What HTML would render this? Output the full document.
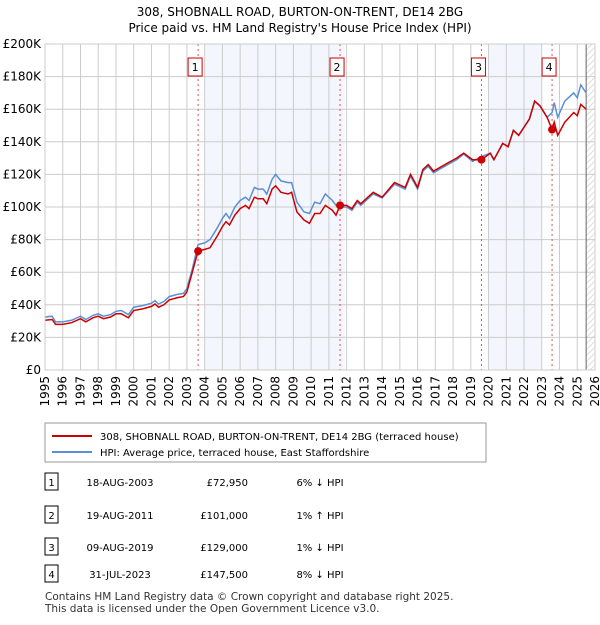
<!DOCTYPE html>
<html><head><meta charset="utf-8"><style>
body{margin:0;background:#fff;font-family:"Liberation Sans","DejaVu Sans",sans-serif;}
svg text{font-family:"DejaVu Sans","Liberation Sans",sans-serif;}
</style></head><body>
<svg id="c" width="600" height="620" xmlns="http://www.w3.org/2000/svg">
<text x="300" y="16" font-size="12" text-anchor="middle">308, SHOBNALL ROAD, BURTON-ON-TRENT, DE14 2BG</text>
<text x="300" y="32" font-size="12" text-anchor="middle">Price paid vs. HM Land Registry's House Price Index (HPI)</text>
<defs><pattern id="h" width="6" height="6" patternUnits="userSpaceOnUse"><path d="M0,6 L6,0" stroke="#ddd" stroke-width="1"/></pattern></defs>
<g id="plot"></g>
<g>
<rect x="45" y="423" width="441" height="39" fill="#fff" stroke="#999"/>
<line x1="52" y1="436" x2="92" y2="436" stroke="#cc0000" stroke-width="2"/>
<text x="100" y="440" font-size="10">308, SHOBNALL ROAD, BURTON-ON-TRENT, DE14 2BG (terraced house)</text>
<line x1="52" y1="452" x2="92" y2="452" stroke="#5b8fd6" stroke-width="2"/>
<text x="100" y="456" font-size="10">HPI: Average price, terraced house, East Staffordshire</text>
</g>
<g id="tbl" font-size="10"></g>
<text x="45" y="600" font-size="10.5" fill="#333">Contains HM Land Registry data © Crown copyright and database right 2025.</text>
<text x="45" y="612" font-size="10.5" fill="#333">This data is licensed under the Open Government Licence v3.0.</text>
</svg>
<script>
const dates=[1995.0,1995.4,1995.6,1996.0,1996.5,1997.0,1997.3,1997.7,1998.0,1998.3,1998.7,1999.0,1999.3,1999.7,2000.0,2000.5,2001.0,2001.2,2001.4,2001.7,2002.0,2002.5,2002.8,2003.0,2003.3,2003.63,2004.0,2004.3,2004.7,2005.0,2005.2,2005.4,2005.7,2006.0,2006.3,2006.5,2006.8,2007.0,2007.3,2007.5,2007.8,2008.0,2008.3,2008.7,2008.9,2009.2,2009.6,2009.9,2010.2,2010.5,2010.8,2011.2,2011.4,2011.63,2012.0,2012.3,2012.6,2012.8,2013.5,2014.0,2014.7,2015.3,2015.6,2016.0,2016.3,2016.6,2016.9,2017.7,2018.2,2018.6,2019.1,2019.6,2020.1,2020.3,2020.8,2021.1,2021.4,2021.7,2022.3,2022.6,2022.9,2023.3,2023.58,2023.7,2023.9,2024.3,2024.8,2025.0,2025.2,2025.5];
const hpi=[32.5,33,29.5,29.5,30.5,33,31,33.5,34.5,33,34,36,36.5,34,38.5,39.5,41,42.5,40.5,42,45,46.5,47,50,62,77,78,80,87,93,96,93,100,104,106,104,112,111,111,108,117,120,116,115,115,103,97,96,103,102,108,104,101,100,100,98,103,101,108,105.5,114,111,119,111,122,125,121,126,129,132.5,128,131,133,129,139,137,147,144,154,165,162,155,158,164,155,165,170,167,175,170];
const price=[30.5,31,28,28,29,31.5,29.5,32,33,31.5,32.5,34.5,34.5,32,36.5,37.5,39,40.5,38.5,40,43,44.5,45,48,60,73,74,75,82,88,91,89,95,99,101,99,106,105,105,102,111,113,109,108,109,97,92,90,96,96,101,98,95,101,101,99,104,102,109,106,115,112,120,112,123,126,122,127,130,133,129,129,133,129,139,137,147,144,154,165,162,155,147.5,152,144,152,158,156,163,160];
const saleYears=[2003.63,2011.63,2019.6,2023.58];
const saleVals=[72.95,101,129,147.5];
const saleDates=["18-AUG-2003","19-AUG-2011","09-AUG-2019","31-JUL-2023"];
const salePrices=["£72,950","£101,000","£129,000","£147,500"];
const saleHpi=["6% ↓ HPI","1% ↑ HPI","1% ↓ HPI","8% ↓ HPI"];
const yTicks=[0,20,40,60,80,100,120,140,160,180,200];
const xTicks=[1995,1996,1997,1998,1999,2000,2001,2002,2003,2004,2005,2006,2007,2008,2009,2010,2011,2012,2013,2014,2015,2016,2017,2018,2019,2020,2021,2022,2023,2024,2025,2026];
const X0=45,X1=595,Y0=370,Y1=44;
const sx=y=>X0+(y-1995)/31*(X1-X0);
const sy=v=>Y0-v/200*(Y0-Y1);
const NS="http://www.w3.org/2000/svg";
const g=document.getElementById('plot');
function mk(t,a,p){const e=document.createElementNS(NS,t);for(const k in a)e.setAttribute(k,a[k]);(p||g).appendChild(e);return e;}
let r;
r=mk('rect',{x:sx(2004),y:Y1,width:sx(2011.9)-sx(2004),height:Y0-Y1,fill:'#f3f6fd'});


r=mk('rect',{x:sx(2020),y:Y1,width:sx(2023)-sx(2020),height:Y0-Y1,fill:'#f3f6fd'});


r=mk('rect',{x:sx(2025.5),y:Y1,width:X1-sx(2025.5),height:Y0-Y1,fill:'url(#h)'});


yTicks.forEach(v=>{
 const l=mk('line',{x1:X0,x2:X1,y1:sy(v),y2:sy(v),stroke:'#ccc'});
 
 
 const t=mk('text',{x:X0-4,y:sy(v)+4,'font-size':12,'text-anchor':'end'});
 t.textContent='£'+(v===0?'0':v+'K');
 
 
});
xTicks.forEach(y=>{
 const l=mk('line',{x1:sx(y),x2:sx(y),y1:Y1,y2:Y0,stroke:'#ccc'});
 
 
 const t=mk('text',{x:0,y:0,'font-size':12,'text-anchor':'end',transform:`translate(${sx(y)+4},${Y0+6}) rotate(-90)`});
 t.textContent=y;
 
 
});
r=mk('line',{x1:sx(2025.5),x2:sx(2025.5),y1:Y1,y2:Y0,stroke:'#666'});


saleYears.forEach((y,i)=>{
 const l=mk('line',{x1:sx(y),x2:sx(y),y1:Y1,y2:Y0,stroke:'#e05050','stroke-dasharray':'2,3'});
 
 
 const b=mk('rect',{x:sx(y)-10,y:58,width:14,height:18,fill:'#fff',stroke:'#cc0000'});
 
 
 const t=mk('text',{x:sx(y)-3,y:71,'font-size':11,'text-anchor':'middle'});
 t.textContent=i+1;
 
 
});
const path=arr=>dates.map((d,i)=>(i?'L':'M')+sx(d).toFixed(1)+','+sy(arr[i]).toFixed(1)).join('');
r=mk('path',{d:path(hpi),fill:'none',stroke:'#5b8fd6','stroke-width':1.5});


r=mk('path',{d:path(price),fill:'none',stroke:'#cc0000','stroke-width':1.5});


saleYears.forEach((y,i)=>{
 const c=mk('circle',{cx:sx(y),cy:sy(saleVals[i]),r:4,fill:'#cc0000'});
 
 
});
r=mk('rect',{x:X0,y:Y1,width:X1-X0,height:Y0-Y1,fill:'none',stroke:'#ccc'});


const tb=document.getElementById('tbl');
const rowsY=[483,516,548,575];
saleDates.forEach((d,i)=>{
 const y=rowsY[i];
 const b=mk('rect',{x:45,y:y-10,width:13,height:17,fill:'#fff',stroke:'#000'},tb);
 
 
 const cells=[[51.5,String(i+1),'middle'],[120,d,'middle'],[248,salePrices[i],'end'],[320,saleHpi[i],'middle']];
 cells.forEach(c=>{
  const t=mk('text',{x:c[0],y:y+3,'text-anchor':c[2]},tb);
  t.textContent=c[1];
  
  
 });
});
</script>
</body></html>
